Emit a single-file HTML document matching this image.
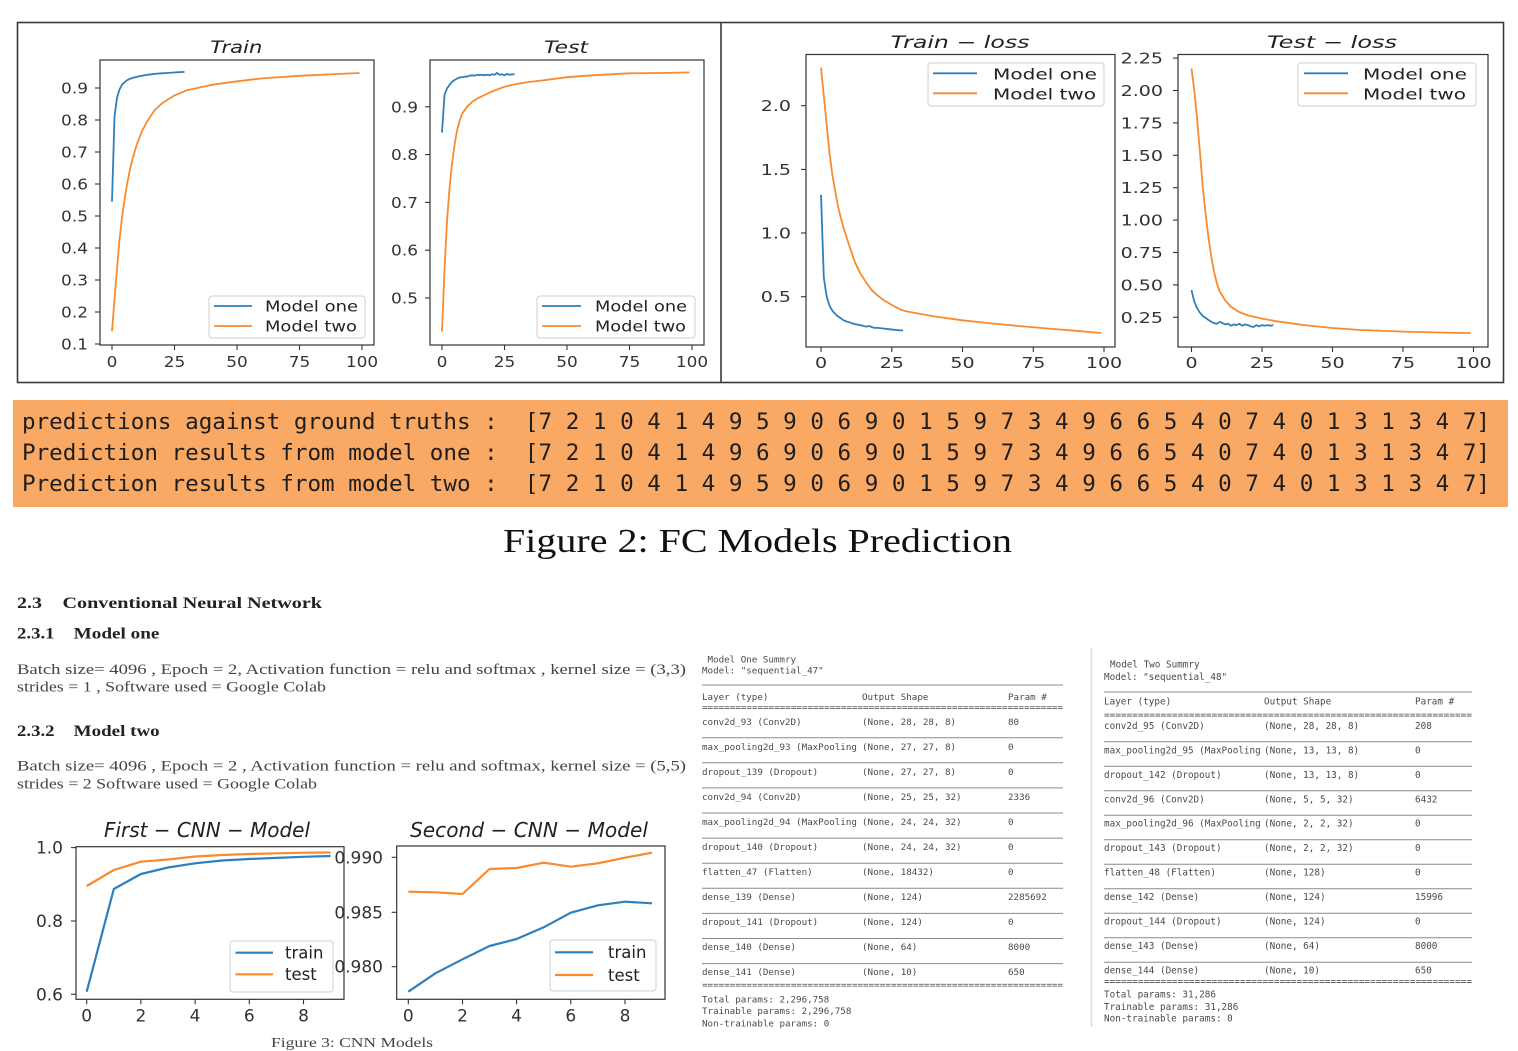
<!DOCTYPE html>
<html>
<head>
<meta charset="utf-8">
<style>
  html,body{margin:0;padding:0;background:#fff;}
  svg{display:block;}
  .tk{font-family:"DejaVu Sans","Liberation Sans",sans-serif;font-size:15px;fill:#333;}
  .tkb{font-family:"DejaVu Sans","Liberation Sans",sans-serif;font-size:17px;fill:#333;}
  .ti{font-family:"DejaVu Sans","Liberation Sans",sans-serif;font-style:italic;font-size:17px;fill:#222;}
  .tib{font-family:"DejaVu Sans","Liberation Sans",sans-serif;font-style:italic;font-size:20px;fill:#222;}
  .lg{font-family:"DejaVu Sans","Liberation Sans",sans-serif;font-size:15px;fill:#222;}
  .lgb{font-family:"DejaVu Sans","Liberation Sans",sans-serif;font-size:16.5px;fill:#222;}
  .sp{fill:none;stroke:#333;stroke-width:1.2;}
  .tm{stroke:#333;stroke-width:1.1;}
  .b{fill:none;stroke:#2f7fbc;stroke-width:1.8;stroke-linejoin:round;}
  .o{fill:none;stroke:#f98a2d;stroke-width:1.8;stroke-linejoin:round;}
  .b2{fill:none;stroke:#2f7fbc;stroke-width:2.2;stroke-linejoin:round;}
  .o2{fill:none;stroke:#f98a2d;stroke-width:2.2;stroke-linejoin:round;}
  .leg{fill:#fff;stroke:#cfcfcf;stroke-width:1;}
  .mono{font-family:"DejaVu Sans Mono","Liberation Mono",monospace;font-size:22.5px;fill:#1e1e1e;white-space:pre;}
  .cap{font-family:"Liberation Serif",serif;font-size:34px;fill:#111;}
  .cap3{font-family:"Liberation Serif",serif;font-size:14px;fill:#444;}
  .h{font-family:"Liberation Serif",serif;font-weight:bold;font-size:16px;fill:#222;}
  .p{font-family:"Liberation Serif",serif;font-size:15px;fill:#444;}
  .t1{font-family:"DejaVu Sans Mono","Liberation Mono",monospace;font-size:9.2px;fill:#4a4a4a;white-space:pre;}
  .t2{font-family:"DejaVu Sans Mono","Liberation Mono",monospace;font-size:9.3px;fill:#4a4a4a;white-space:pre;}
  .rl{stroke:#8a8a8a;stroke-width:1;}
</style>
</head>
<body>
<svg width="1518" height="1051" viewBox="0 0 1518 1051" xmlns="http://www.w3.org/2000/svg">
<rect x="0" y="0" width="1518" height="1051" fill="#fff"/>

<!-- ===== Top frame ===== -->
<rect x="17.5" y="22.5" width="1486" height="360" fill="none" stroke="#3a3a3a" stroke-width="1.6"/>
<line x1="721" y1="22.5" x2="721" y2="382.5" stroke="#3a3a3a" stroke-width="1.6"/>

<!-- ===== Panel 1: Train ===== -->
<text class="ti" x="210.3" y="53" textLength="52" lengthAdjust="spacingAndGlyphs">Train</text>
<rect class="sp" x="100" y="60" width="274" height="285"/>
<g class="tm">
  <line x1="95" y1="344" x2="100" y2="344"/><line x1="95" y1="312" x2="100" y2="312"/>
  <line x1="95" y1="280" x2="100" y2="280"/><line x1="95" y1="248" x2="100" y2="248"/>
  <line x1="95" y1="216" x2="100" y2="216"/><line x1="95" y1="184" x2="100" y2="184"/>
  <line x1="95" y1="152" x2="100" y2="152"/><line x1="95" y1="120" x2="100" y2="120"/>
  <line x1="95" y1="88" x2="100" y2="88"/>
  <line x1="112" y1="345" x2="112" y2="350"/><line x1="174.5" y1="345" x2="174.5" y2="350"/>
  <line x1="237" y1="345" x2="237" y2="350"/><line x1="299.5" y1="345" x2="299.5" y2="350"/>
  <line x1="362" y1="345" x2="362" y2="350"/>
</g>
<g class="tk" text-anchor="end">
  <text transform="translate(88,349.5) scale(1.13,1)">0.1</text>
  <text transform="translate(88,317.5) scale(1.13,1)">0.2</text>
  <text transform="translate(88,285.5) scale(1.13,1)">0.3</text>
  <text transform="translate(88,253.5) scale(1.13,1)">0.4</text>
  <text transform="translate(88,221.5) scale(1.13,1)">0.5</text>
  <text transform="translate(88,189.5) scale(1.13,1)">0.6</text>
  <text transform="translate(88,157.5) scale(1.13,1)">0.7</text>
  <text transform="translate(88,125.5) scale(1.13,1)">0.8</text>
  <text transform="translate(88,93.5) scale(1.13,1)">0.9</text>
</g>
<g class="tk" text-anchor="middle">
  <text transform="translate(112,367) scale(1.13,1)">0</text>
  <text transform="translate(174.5,367) scale(1.13,1)">25</text>
  <text transform="translate(237,367) scale(1.13,1)">50</text>
  <text transform="translate(299.5,367) scale(1.13,1)">75</text>
  <text transform="translate(362,367) scale(1.13,1)">100</text>
</g>
<polyline class="b" points="112,201.6 114.5,116.8 117,97.6 119.5,89.6 122,84.8 124.5,82.2 127,80.3 129.5,79.0 132,78.1 137,76.8 142,75.8 147,74.9 152,74.2 157,73.6 162,73.3 167,73.0 172,72.6 177,72.3 182,72.0 184.5,72.0"/>
<polyline class="o" points="112,331.2 114.5,299.2 117,268.8 119.5,240 122,217.6 124.5,200 127,184.6 129.5,171.8 132,161 134.5,152 137,144 142,131.2 147,121.6 154.5,110.4 162,103.4 174.5,95.4 187,90.2 212,84.8 237,81.3 262,78.4 299.5,75.8 337,74.0 359.5,73.0"/>
<rect class="leg" x="209" y="296" width="156" height="42" rx="3"/>
<line x1="214" y1="306" x2="252" y2="306" stroke="#2f7fbc" stroke-width="1.8"/>
<line x1="214" y1="326" x2="252" y2="326" stroke="#f98a2d" stroke-width="1.8"/>
<text class="lg" x="265" y="311.5" textLength="93" lengthAdjust="spacingAndGlyphs">Model one</text>
<text class="lg" x="265" y="331.5" textLength="92" lengthAdjust="spacingAndGlyphs">Model two</text>

<!-- ===== Panel 2: Test ===== -->
<text class="ti" x="544" y="53" textLength="44" lengthAdjust="spacingAndGlyphs">Test</text>
<rect class="sp" x="430" y="60" width="274" height="285"/>
<g class="tm">
  <line x1="425" y1="298" x2="430" y2="298"/><line x1="425" y1="250.2" x2="430" y2="250.2"/>
  <line x1="425" y1="202.4" x2="430" y2="202.4"/><line x1="425" y1="154.6" x2="430" y2="154.6"/>
  <line x1="425" y1="106.8" x2="430" y2="106.8"/>
  <line x1="442" y1="345" x2="442" y2="350"/><line x1="504.5" y1="345" x2="504.5" y2="350"/>
  <line x1="567" y1="345" x2="567" y2="350"/><line x1="629.5" y1="345" x2="629.5" y2="350"/>
  <line x1="692" y1="345" x2="692" y2="350"/>
</g>
<g class="tk" text-anchor="end">
  <text transform="translate(418,303.5) scale(1.13,1)">0.5</text>
  <text transform="translate(418,255.7) scale(1.13,1)">0.6</text>
  <text transform="translate(418,207.9) scale(1.13,1)">0.7</text>
  <text transform="translate(418,160.1) scale(1.13,1)">0.8</text>
  <text transform="translate(418,112.3) scale(1.13,1)">0.9</text>
</g>
<g class="tk" text-anchor="middle">
  <text transform="translate(442,367) scale(1.13,1)">0</text>
  <text transform="translate(504.5,367) scale(1.13,1)">25</text>
  <text transform="translate(567,367) scale(1.13,1)">50</text>
  <text transform="translate(629.5,367) scale(1.13,1)">75</text>
  <text transform="translate(692,367) scale(1.13,1)">100</text>
</g>
<polyline class="b" points="442,132.6 444.5,94.8 447,88.6 449.5,84.8 452,81.9 454.5,80.0 457,78.6 459.5,77.6 462,77.2 464.5,76.7 467,76.7 469.5,75.7 472,75.3 474.5,75.7 477,74.8 479.5,75.3 482,74.8 484.5,75.3 487,74.8 489.5,75.3 492,74.3 494.5,74.8 497,72.9 499.5,74.8 502,74.3 504.5,75.3 507,73.8 509.5,74.8 512,74.3 514.5,74.3"/>
<polyline class="o" points="442,331.5 444.5,269.3 447,221.5 449.5,188.1 452,164.2 454.5,145.0 457,130.7 459.5,121.1 462,114.0 467,106.8 472,102.0 477,98.7 484.5,94.9 492,91.5 504.5,86.7 517,83.9 529.5,81.9 542,80.5 567,77.2 592,75.3 629.5,73.3 667,72.9 689.5,72.4"/>
<rect class="leg" x="537" y="296" width="158" height="42" rx="3"/>
<line x1="542" y1="306" x2="581" y2="306" stroke="#2f7fbc" stroke-width="1.8"/>
<line x1="542" y1="326" x2="581" y2="326" stroke="#f98a2d" stroke-width="1.8"/>
<text class="lg" x="595" y="311.5" textLength="92" lengthAdjust="spacingAndGlyphs">Model one</text>
<text class="lg" x="595" y="331.5" textLength="91" lengthAdjust="spacingAndGlyphs">Model two</text>

<!-- ===== Panel 3: Train - loss ===== -->
<text class="ti" x="890.5" y="48" textLength="139" lengthAdjust="spacingAndGlyphs">Train − loss</text>
<rect class="sp" x="806" y="54.5" width="309" height="292.5"/>
<g class="tm">
  <line x1="801" y1="296.7" x2="806" y2="296.7"/><line x1="801" y1="233" x2="806" y2="233"/>
  <line x1="801" y1="169.4" x2="806" y2="169.4"/><line x1="801" y1="105.7" x2="806" y2="105.7"/>
  <line x1="821" y1="347" x2="821" y2="352"/><line x1="891.8" y1="347" x2="891.8" y2="352"/>
  <line x1="962.5" y1="347" x2="962.5" y2="352"/><line x1="1033.3" y1="347" x2="1033.3" y2="352"/>
  <line x1="1104" y1="347" x2="1104" y2="352"/>
</g>
<g class="tk" text-anchor="end">
  <text transform="translate(791,302.2) scale(1.27,1)">0.5</text>
  <text transform="translate(791,238.5) scale(1.27,1)">1.0</text>
  <text transform="translate(791,174.9) scale(1.27,1)">1.5</text>
  <text transform="translate(791,111.2) scale(1.27,1)">2.0</text>
</g>
<g class="tk" text-anchor="middle">
  <text transform="translate(821,368) scale(1.27,1)">0</text>
  <text transform="translate(891.8,368) scale(1.27,1)">25</text>
  <text transform="translate(962.5,368) scale(1.27,1)">50</text>
  <text transform="translate(1033.3,368) scale(1.27,1)">75</text>
  <text transform="translate(1104,368) scale(1.27,1)">100</text>
</g>
<polyline class="o" points="821,67.6 823.8,95.6 826.7,124.8 829.5,152.9 832.3,174.5 835.2,191.0 838,206.3 840.8,217.8 843.6,228.0 846.5,236.9 849.3,245.8 855,262.3 860.6,273.8 866.3,282.7 871.9,290.3 877.6,295.4 883.3,299.9 891.8,305.0 900.2,309.4 905.9,311.3 920.1,313.9 934.2,316.4 962.5,320.3 990.8,323.4 1019.1,326.0 1047.4,328.5 1075.7,330.8 1101.2,333.0"/>
<polyline class="b" points="821,194.9 823.8,277.6 826.7,296.7 829.5,305.6 832.3,310.7 835.2,313.9 838,316.4 840.8,318.3 843.6,320.3 846.5,321.5 849.3,322.2 852.1,323.4 855,324.1 860.6,325.3 866.3,326.6 869.1,326.0 871.9,327.2 874.8,327.9 877.6,327.9 883.3,328.5 888.9,329.2 894.6,329.8 900.2,330.4 903.1,330.4"/>
<rect class="leg" x="928" y="63" width="176" height="43" rx="3"/>
<line x1="933" y1="73.3" x2="977" y2="73.3" stroke="#2f7fbc" stroke-width="1.8"/>
<line x1="933" y1="93.3" x2="977" y2="93.3" stroke="#f98a2d" stroke-width="1.8"/>
<text class="lg" x="993" y="79.3" textLength="104" lengthAdjust="spacingAndGlyphs">Model one</text>
<text class="lg" x="993" y="99.3" textLength="103" lengthAdjust="spacingAndGlyphs">Model two</text>

<!-- ===== Panel 4: Test - loss ===== -->
<text class="ti" x="1267" y="48" textLength="130" lengthAdjust="spacingAndGlyphs">Test − loss</text>
<rect class="sp" x="1178" y="54.5" width="310" height="292.5"/>
<g class="tm">
  <line x1="1173" y1="317.3" x2="1178" y2="317.3"/><line x1="1173" y1="284.9" x2="1178" y2="284.9"/>
  <line x1="1173" y1="252.5" x2="1178" y2="252.5"/><line x1="1173" y1="220.1" x2="1178" y2="220.1"/>
  <line x1="1173" y1="187.7" x2="1178" y2="187.7"/><line x1="1173" y1="155.3" x2="1178" y2="155.3"/>
  <line x1="1173" y1="122.9" x2="1178" y2="122.9"/><line x1="1173" y1="90.5" x2="1178" y2="90.5"/>
  <line x1="1173" y1="58.1" x2="1178" y2="58.1"/>
  <line x1="1191.5" y1="347" x2="1191.5" y2="352"/><line x1="1262" y1="347" x2="1262" y2="352"/>
  <line x1="1332.5" y1="347" x2="1332.5" y2="352"/><line x1="1403" y1="347" x2="1403" y2="352"/>
  <line x1="1473.5" y1="347" x2="1473.5" y2="352"/>
</g>
<g class="tk" text-anchor="end">
  <text transform="translate(1163,322.8) scale(1.27,1)">0.25</text>
  <text transform="translate(1163,290.4) scale(1.27,1)">0.50</text>
  <text transform="translate(1163,258) scale(1.27,1)">0.75</text>
  <text transform="translate(1163,225.6) scale(1.27,1)">1.00</text>
  <text transform="translate(1163,193.2) scale(1.27,1)">1.25</text>
  <text transform="translate(1163,160.8) scale(1.27,1)">1.50</text>
  <text transform="translate(1163,128.4) scale(1.27,1)">1.75</text>
  <text transform="translate(1163,96) scale(1.27,1)">2.00</text>
  <text transform="translate(1163,63.6) scale(1.27,1)">2.25</text>
</g>
<g class="tk" text-anchor="middle">
  <text transform="translate(1191.5,368) scale(1.27,1)">0</text>
  <text transform="translate(1262,368) scale(1.27,1)">25</text>
  <text transform="translate(1332.5,368) scale(1.27,1)">50</text>
  <text transform="translate(1403,368) scale(1.27,1)">75</text>
  <text transform="translate(1473.5,368) scale(1.27,1)">100</text>
</g>
<polyline class="o" points="1191.5,68.5 1194.3,90.5 1197.1,119.0 1200,152.7 1202.8,187.7 1205.6,213.6 1208.4,237.0 1211.2,256.4 1214.1,271.9 1216.9,283.6 1219.7,291.4 1225.3,300.5 1231,306.9 1239.4,312.1 1247.9,315.4 1262,318.6 1276.1,321.2 1304.3,325.1 1332.5,328.0 1360.7,330.0 1403,331.6 1445.3,332.6 1470.7,333.1"/>
<polyline class="b" points="1191.5,290.1 1194.3,301.7 1197.1,308.2 1200,312.8 1202.8,316.0 1205.6,317.9 1208.4,319.9 1211.2,321.8 1214.1,323.1 1216.9,323.8 1219.7,321.8 1222.5,323.1 1225.3,324.4 1228.2,323.8 1231,325.7 1233.8,324.4 1236.6,325.1 1239.4,323.8 1242.3,325.7 1245.1,324.4 1247.9,325.1 1250.7,326.4 1253.5,327.0 1256.4,325.1 1259.2,326.4 1262,325.1 1264.8,325.7 1267.6,325.1 1270.5,325.7 1273.3,325.1"/>
<rect class="leg" x="1298" y="63" width="178" height="43" rx="3"/>
<line x1="1304" y1="73.3" x2="1348" y2="73.3" stroke="#2f7fbc" stroke-width="1.8"/>
<line x1="1304" y1="93.3" x2="1348" y2="93.3" stroke="#f98a2d" stroke-width="1.8"/>
<text class="lg" x="1363" y="79.3" textLength="104" lengthAdjust="spacingAndGlyphs">Model one</text>
<text class="lg" x="1363" y="99.3" textLength="103" lengthAdjust="spacingAndGlyphs">Model two</text>

<!-- ===== Orange prediction band ===== -->
<rect x="13" y="400" width="1495" height="107" fill="#f9a963"/>
<text class="mono" x="22" y="429" textLength="1468" lengthAdjust="spacingAndGlyphs">predictions against ground truths :  [7 2 1 0 4 1 4 9 5 9 0 6 9 0 1 5 9 7 3 4 9 6 6 5 4 0 7 4 0 1 3 1 3 4 7]</text>
<text class="mono" x="22" y="460" textLength="1468" lengthAdjust="spacingAndGlyphs">Prediction results from model one :  [7 2 1 0 4 1 4 9 6 9 0 6 9 0 1 5 9 7 3 4 9 6 6 5 4 0 7 4 0 1 3 1 3 4 7]</text>
<text class="mono" x="22" y="491" textLength="1468" lengthAdjust="spacingAndGlyphs">Prediction results from model two :  [7 2 1 0 4 1 4 9 5 9 0 6 9 0 1 5 9 7 3 4 9 6 6 5 4 0 7 4 0 1 3 1 3 4 7]</text>

<text class="cap" x="503" y="552" textLength="509" lengthAdjust="spacingAndGlyphs">Figure 2: FC Models Prediction</text>

<!-- ===== Section text ===== -->
<text class="h" x="17" y="608" textLength="25" lengthAdjust="spacingAndGlyphs">2.3</text>
<text class="h" x="62.5" y="608" textLength="259.5" lengthAdjust="spacingAndGlyphs">Conventional Neural Network</text>
<text class="h" x="17" y="638.5" textLength="37.5" lengthAdjust="spacingAndGlyphs">2.3.1</text>
<text class="h" x="73.7" y="638.5" textLength="85.7" lengthAdjust="spacingAndGlyphs">Model one</text>
<text class="p" x="17" y="674" textLength="669" lengthAdjust="spacingAndGlyphs">Batch size= 4096 , Epoch = 2, Activation function = relu and softmax , kernel size = (3,3)</text>
<text class="p" x="17" y="691.5" textLength="309" lengthAdjust="spacingAndGlyphs">strides = 1 , Software used = Google Colab</text>
<text class="h" x="17" y="736" textLength="37.5" lengthAdjust="spacingAndGlyphs">2.3.2</text>
<text class="h" x="73.7" y="736" textLength="86" lengthAdjust="spacingAndGlyphs">Model two</text>
<text class="p" x="17" y="770.7" textLength="669" lengthAdjust="spacingAndGlyphs">Batch size= 4096 , Epoch = 2 , Activation function = relu and softmax, kernel size = (5,5)</text>
<text class="p" x="17" y="788.3" textLength="300" lengthAdjust="spacingAndGlyphs">strides = 2 Software used = Google Colab</text>

<!-- ===== CNN chart 1 ===== -->
<text class="tib" x="104" y="837" textLength="206" lengthAdjust="spacingAndGlyphs">First − CNN − Model</text>
<rect class="sp" x="76" y="846.7" width="268" height="152.6"/>
<g class="tm">
  <line x1="71" y1="847.6" x2="76" y2="847.6"/><line x1="71" y1="921" x2="76" y2="921"/>
  <line x1="71" y1="994.3" x2="76" y2="994.3"/>
  <line x1="86.7" y1="999.3" x2="86.7" y2="1004.3"/><line x1="140.9" y1="999.3" x2="140.9" y2="1004.3"/>
  <line x1="195.1" y1="999.3" x2="195.1" y2="1004.3"/><line x1="249.3" y1="999.3" x2="249.3" y2="1004.3"/>
  <line x1="303.5" y1="999.3" x2="303.5" y2="1004.3"/>
</g>
<g class="tkb" text-anchor="end">
  <text x="63" y="853.6">1.0</text>
  <text x="63" y="927">0.8</text>
  <text x="63" y="1000.3">0.6</text>
</g>
<g class="tkb" text-anchor="middle">
  <text x="86.7" y="1021.5">0</text>
  <text x="140.9" y="1021.5">2</text>
  <text x="195.1" y="1021.5">4</text>
  <text x="249.3" y="1021.5">6</text>
  <text x="303.5" y="1021.5">8</text>
</g>
<polyline class="b2" points="86.7,991.7 113.8,889 140.9,874 168,867.5 195.1,863.3 222.2,860.5 249.3,859 276.4,857.9 303.5,856.8 330.6,856"/>
<polyline class="o2" points="86.7,886 113.8,870 140.9,861.7 168,859.5 195.1,856.5 222.2,855 249.3,854 276.4,853.3 303.5,852.7 330.6,852.5"/>
<rect class="leg" x="230" y="941" width="103" height="51" rx="3"/>
<line x1="235.5" y1="952.7" x2="273" y2="952.7" stroke="#2f7fbc" stroke-width="2.2"/>
<line x1="235.5" y1="974.3" x2="273" y2="974.3" stroke="#f98a2d" stroke-width="2.2"/>
<text class="lgb" x="285" y="958.5">train</text>
<text class="lgb" x="285" y="980">test</text>

<!-- ===== CNN chart 2 ===== -->
<text class="tib" x="410" y="837" textLength="238" lengthAdjust="spacingAndGlyphs">Second − CNN − Model</text>
<rect class="sp" x="396.7" y="846" width="268.3" height="153.3"/>
<g class="tm">
  <line x1="391.7" y1="857.3" x2="396.7" y2="857.3"/><line x1="391.7" y1="912.3" x2="396.7" y2="912.3"/>
  <line x1="391.7" y1="966.7" x2="396.7" y2="966.7"/>
  <line x1="408.3" y1="999.3" x2="408.3" y2="1004.3"/><line x1="462.5" y1="999.3" x2="462.5" y2="1004.3"/>
  <line x1="516.6" y1="999.3" x2="516.6" y2="1004.3"/><line x1="570.8" y1="999.3" x2="570.8" y2="1004.3"/>
  <line x1="625" y1="999.3" x2="625" y2="1004.3"/>
</g>
<g class="tkb" text-anchor="end">
  <text x="383" y="863.3">0.990</text>
  <text x="383" y="918.3">0.985</text>
  <text x="383" y="972.7">0.980</text>
</g>
<g class="tkb" text-anchor="middle">
  <text x="408.3" y="1021.5">0</text>
  <text x="462.5" y="1021.5">2</text>
  <text x="516.6" y="1021.5">4</text>
  <text x="570.8" y="1021.5">6</text>
  <text x="625" y="1021.5">8</text>
</g>
<polyline class="o2" points="408.3,891.7 435.4,892.3 462.5,894 489.5,869 516.6,868 543.7,862.7 570.8,866.7 597.9,863.3 625,857.7 652,852.7"/>
<polyline class="b2" points="408.3,991.7 435.4,973.3 462.5,959.3 489.5,946 516.6,939 543.7,927.3 570.8,912.7 597.9,905.3 625,901.7 652,903.3"/>
<rect class="leg" x="550" y="940" width="106" height="51" rx="3"/>
<line x1="555" y1="952.3" x2="593" y2="952.3" stroke="#2f7fbc" stroke-width="2.2"/>
<line x1="555" y1="975" x2="593" y2="975" stroke="#f98a2d" stroke-width="2.2"/>
<text class="lgb" x="608" y="958">train</text>
<text class="lgb" x="608" y="981">test</text>

<text class="cap3" x="271" y="1047" textLength="162" lengthAdjust="spacingAndGlyphs">Figure 3: CNN Models</text>

<!-- ===== Table 1: Model One Summary ===== -->
<g class="t1">
  <text x="707.5" y="662.5">Model One Summry</text>
  <text x="702" y="673.5">Model: "sequential_47"</text>
  <text x="702" y="700">Layer (type)</text><text x="862" y="700">Output Shape</text><text x="1008" y="700">Param #</text>
  <text x="702" y="710.5" textLength="361" lengthAdjust="spacingAndGlyphs">=================================================================</text>
  <text x="702" y="725">conv2d_93 (Conv2D)</text><text x="862" y="725">(None, 28, 28, 8)</text><text x="1008" y="725">80</text>
  <text x="702" y="750">max_pooling2d_93 (MaxPooling</text><text x="862" y="750">(None, 27, 27, 8)</text><text x="1008" y="750">0</text>
  <text x="702" y="775">dropout_139 (Dropout)</text><text x="862" y="775">(None, 27, 27, 8)</text><text x="1008" y="775">0</text>
  <text x="702" y="800">conv2d_94 (Conv2D)</text><text x="862" y="800">(None, 25, 25, 32)</text><text x="1008" y="800">2336</text>
  <text x="702" y="825">max_pooling2d_94 (MaxPooling</text><text x="862" y="825">(None, 24, 24, 32)</text><text x="1008" y="825">0</text>
  <text x="702" y="850">dropout_140 (Dropout)</text><text x="862" y="850">(None, 24, 24, 32)</text><text x="1008" y="850">0</text>
  <text x="702" y="875">flatten_47 (Flatten)</text><text x="862" y="875">(None, 18432)</text><text x="1008" y="875">0</text>
  <text x="702" y="900">dense_139 (Dense)</text><text x="862" y="900">(None, 124)</text><text x="1008" y="900">2285692</text>
  <text x="702" y="925">dropout_141 (Dropout)</text><text x="862" y="925">(None, 124)</text><text x="1008" y="925">0</text>
  <text x="702" y="950">dense_140 (Dense)</text><text x="862" y="950">(None, 64)</text><text x="1008" y="950">8000</text>
  <text x="702" y="975">dense_141 (Dense)</text><text x="862" y="975">(None, 10)</text><text x="1008" y="975">650</text>
  <text x="702" y="988" textLength="361" lengthAdjust="spacingAndGlyphs">=================================================================</text>
  <text x="702" y="1002.3">Total params: 2,296,758</text>
  <text x="702" y="1014">Trainable params: 2,296,758</text>
  <text x="702" y="1026.6">Non-trainable params: 0</text>
</g>
<g class="rl">
  <line x1="702" y1="685" x2="1063" y2="685"/>
  <line x1="702" y1="737.7" x2="1063" y2="737.7"/>
  <line x1="702" y1="762.8" x2="1063" y2="762.8"/>
  <line x1="702" y1="787.9" x2="1063" y2="787.9"/>
  <line x1="702" y1="813" x2="1063" y2="813"/>
  <line x1="702" y1="838.1" x2="1063" y2="838.1"/>
  <line x1="702" y1="863.2" x2="1063" y2="863.2"/>
  <line x1="702" y1="888.3" x2="1063" y2="888.3"/>
  <line x1="702" y1="913.4" x2="1063" y2="913.4"/>
  <line x1="702" y1="938.5" x2="1063" y2="938.5"/>
  <line x1="702" y1="963.6" x2="1063" y2="963.6"/>
</g>

<!-- ===== Table 2: Model Two Summary ===== -->
<line x1="1091.5" y1="648" x2="1091.5" y2="1027" stroke="#dcdcdc" stroke-width="1.5"/>
<g class="t2">
  <text x="1110" y="667.6">Model Two Summry</text>
  <text x="1104" y="680">Model: "sequential_48"</text>
  <text x="1104" y="704.3">Layer (type)</text><text x="1264" y="704.3">Output Shape</text><text x="1415" y="704.3">Param #</text>
  <text x="1104" y="718" textLength="368" lengthAdjust="spacingAndGlyphs">=================================================================</text>
  <text x="1104" y="729">conv2d_95 (Conv2D)</text><text x="1264" y="729">(None, 28, 28, 8)</text><text x="1415" y="729">208</text>
  <text x="1104" y="753.4">max_pooling2d_95 (MaxPooling</text><text x="1264" y="753.4">(None, 13, 13, 8)</text><text x="1415" y="753.4">0</text>
  <text x="1104" y="777.9">dropout_142 (Dropout)</text><text x="1264" y="777.9">(None, 13, 13, 8)</text><text x="1415" y="777.9">0</text>
  <text x="1104" y="802.3">conv2d_96 (Conv2D)</text><text x="1264" y="802.3">(None, 5, 5, 32)</text><text x="1415" y="802.3">6432</text>
  <text x="1104" y="826.7">max_pooling2d_96 (MaxPooling</text><text x="1264" y="826.7">(None, 2, 2, 32)</text><text x="1415" y="826.7">0</text>
  <text x="1104" y="851.2">dropout_143 (Dropout)</text><text x="1264" y="851.2">(None, 2, 2, 32)</text><text x="1415" y="851.2">0</text>
  <text x="1104" y="875.6">flatten_48 (Flatten)</text><text x="1264" y="875.6">(None, 128)</text><text x="1415" y="875.6">0</text>
  <text x="1104" y="900">dense_142 (Dense)</text><text x="1264" y="900">(None, 124)</text><text x="1415" y="900">15996</text>
  <text x="1104" y="924.4">dropout_144 (Dropout)</text><text x="1264" y="924.4">(None, 124)</text><text x="1415" y="924.4">0</text>
  <text x="1104" y="948.9">dense_143 (Dense)</text><text x="1264" y="948.9">(None, 64)</text><text x="1415" y="948.9">8000</text>
  <text x="1104" y="973.3">dense_144 (Dense)</text><text x="1264" y="973.3">(None, 10)</text><text x="1415" y="973.3">650</text>
  <text x="1104" y="984.5" textLength="368" lengthAdjust="spacingAndGlyphs">=================================================================</text>
  <text x="1104" y="997.6">Total params: 31,286</text>
  <text x="1104" y="1010">Trainable params: 31,286</text>
  <text x="1104" y="1021.6">Non-trainable params: 0</text>
</g>
<g class="rl">
  <line x1="1104" y1="692" x2="1472" y2="692"/>
  <line x1="1104" y1="741.7" x2="1472" y2="741.7"/>
  <line x1="1104" y1="766.2" x2="1472" y2="766.2"/>
  <line x1="1104" y1="790.7" x2="1472" y2="790.7"/>
  <line x1="1104" y1="815.2" x2="1472" y2="815.2"/>
  <line x1="1104" y1="839.7" x2="1472" y2="839.7"/>
  <line x1="1104" y1="864.2" x2="1472" y2="864.2"/>
  <line x1="1104" y1="888.7" x2="1472" y2="888.7"/>
  <line x1="1104" y1="913.2" x2="1472" y2="913.2"/>
  <line x1="1104" y1="937.7" x2="1472" y2="937.7"/>
  <line x1="1104" y1="962.2" x2="1472" y2="962.2"/>
</g>
</svg>
</body>
</html>
